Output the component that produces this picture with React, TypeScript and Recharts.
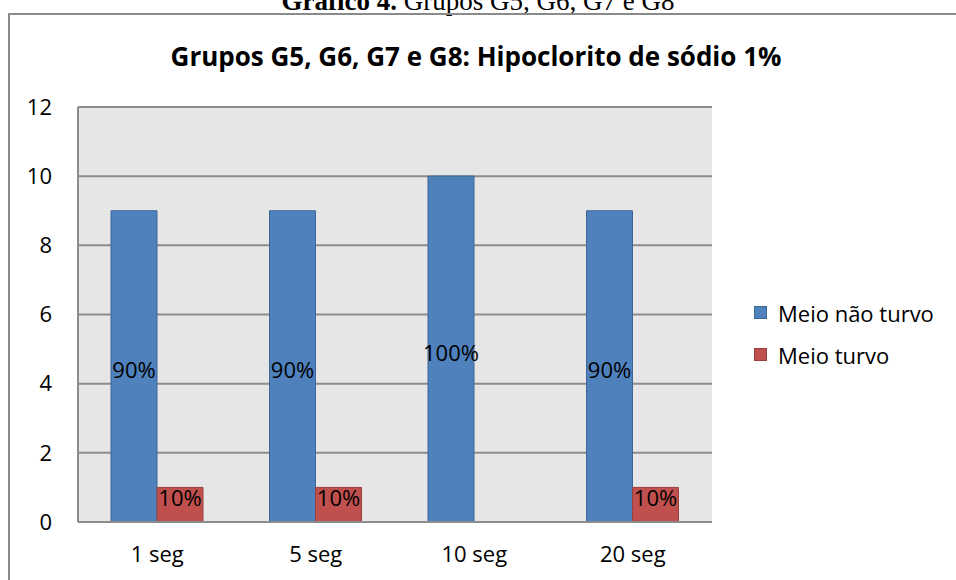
import React from 'react';
import { BarChart, Bar, XAxis, YAxis, CartesianGrid, LabelList } from 'recharts';

// Tempo de exposição e contagem de amostras por resultado
const tempos = ['1 seg', '5 seg', '10 seg', '20 seg'];
const meioNaoTurvo = [9, 9, 10, 9];
const meioTurvo = [1, 1, 0, 1];
const yTicks = [0, 2, 4, 6, 8, 10, 12];

const SERIES = [
  { key: 'naoTurvo', name: 'Meio não turvo', fill: '#4F81BD', stroke: '#3C6696' },
  { key: 'turvo', name: 'Meio turvo', fill: '#C0504D', stroke: '#98403D' },
];

const data = tempos.map((t, i) => ({
  tempo: t,
  naoTurvo: meioNaoTurvo[i],
  turvo: meioTurvo[i],
  total: meioNaoTurvo[i] + meioTurvo[i],
}));

const FONT = '"Open Sans", "Noto Sans", sans-serif';
const GRID = '#8C8C8C';

// percent label inside the bar; short bars get it nudged toward the top
function PctLabel(props: any) {
  const { x, y, width, height, value, index } = props;
  if (!value) return null;
  const pct = Math.round((value / data[index].total) * 100);
  const cy = height < 60 ? y + 10 : y + height / 2 + 3;
  return (
    <text
      x={x + width / 2}
      y={cy}
      textAnchor="middle"
      dominantBaseline="central"
      fontSize={22}
      fontFamily={FONT}
      fill="#000"
    >
      {pct}%
    </text>
  );
}

export default function App() {
  return (
    <div style={{ position: 'fixed', left: 0, top: 0, width: 956, height: 580, background: '#fff', overflow: 'hidden' }}>
      <div style={{ position: 'absolute', left: 0, top: 0 }}>
        <BarChart
          width={956}
          height={580}
          data={data}
          margin={{ top: 107, right: 244, bottom: 22, left: 0 }}
          barGap={0}
          barSize={46}
        >
          <CartesianGrid vertical={false} fill="#E6E6E6" stroke={GRID} strokeWidth={2} />
          <XAxis
            dataKey="tempo"
            height={36}
            axisLine={{ stroke: GRID, strokeWidth: 2 }}
            tickLine={false}
            tick={{ fill: '#000', fontSize: 22, fontFamily: FONT }}
            tickMargin={18}
          />
          <YAxis
            width={78}
            domain={[0, 12]}
            ticks={yTicks}
            axisLine={{ stroke: GRID, strokeWidth: 2 }}
            tickLine={false}
            tick={{ fill: '#000', fontSize: 22, fontFamily: FONT }}
            tickMargin={20}
          />
          {SERIES.map((s) => (
            <Bar key={s.key} dataKey={s.key} name={s.name} fill={s.fill} stroke={s.stroke} strokeWidth={1} isAnimationActive={false}>
              <LabelList dataKey={s.key} content={<PctLabel />} />
            </Bar>
          ))}
        </BarChart>
      </div>
      {/* caption, frame, title and legend */}
      <svg width={956} height={580} style={{ position: 'absolute', left: 0, top: 0, pointerEvents: 'none' }}>
        <text x={478} y={10} textAnchor="middle" fontFamily='"Liberation Serif", serif' fontSize={27}>
          <tspan fontWeight={700}>Gráfico 4.</tspan> Grupos G5, G6, G7 e G8
        </text>
        <path d="M9,580 L9,14 L956,14" fill="none" stroke="#8A8A8A" strokeWidth={2} />
        <text x={476} y={66} textAnchor="middle" fontFamily={FONT} fontWeight={700} fontSize={26}>
          Grupos G5, G6, G7 e G8: Hipoclorito de sódio 1%
        </text>
        {SERIES.map((s, i) => (
          <g key={s.key}>
            <rect x={754.5} y={306.5 + i * 42} width={12} height={12} fill={s.fill} stroke={s.stroke} />
            <text x={778} y={312.5 + i * 42} dominantBaseline="central" fontFamily={FONT} fontSize={22}>
              {s.name}
            </text>
          </g>
        ))}
      </svg>
    </div>
  );
}
